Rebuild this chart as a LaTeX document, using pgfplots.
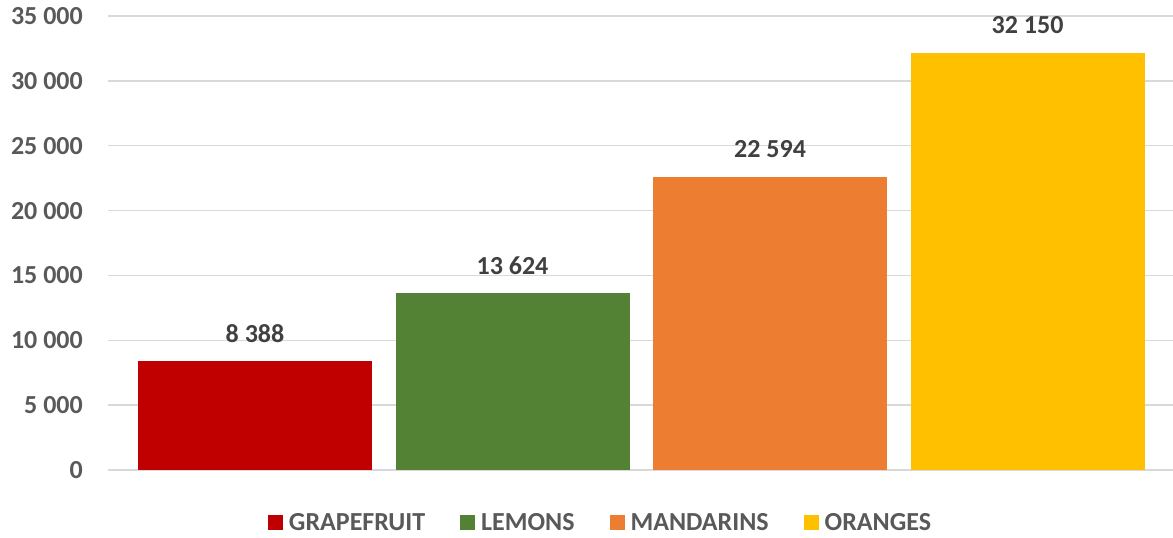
\documentclass[border=0pt]{standalone}
\usepackage{pgfplots}
\pgfplotsset{compat=1.18}
\usepackage{fontspec}
\setmainfont{Carlito}
\definecolor{tickc}{HTML}{595959}
\definecolor{valc}{HTML}{404040}
\definecolor{gridc}{HTML}{D9D9D9}
\definecolor{cgrape}{HTML}{C00000}
\definecolor{clemon}{HTML}{548235}
\definecolor{cmand}{HTML}{ED7D31}
\definecolor{corange}{HTML}{FFC000}
\newcommand{\bigfont}{\fontsize{26}{30}\selectfont\bfseries}
\begin{document}
\begin{tikzpicture}[x=1pt,y=1pt]
\path[use as bounding box] (0,0) rectangle (1173,538);
\begin{axis}[
  at={(108pt,68pt)}, anchor=south west,
  width=1065pt, height=454pt, scale only axis,
  xmin=-0.5709, xmax=3.565, ymin=0, ymax=35000,
  axis line style={draw=none},
  tick style={draw=none},
  xtick=\empty,
  scaled y ticks=false,
  ytick={0,5000,10000,15000,20000,25000,30000,35000},
  yticklabels={0,5 000,10 000,15 000,20 000,25 000,30 000,35 000},
  yticklabel style={font=\bigfont, text=tickc, anchor=east, inner sep=0pt, xshift=-25pt},
  ymajorgrids,
  grid style={color=gridc, line width=1.5pt},
  ybar, bar width=234pt, /pgf/bar shift=0pt,
  point meta=explicit symbolic,
  nodes near coords,
  every node near coord/.append style={font=\bigfont, text=valc, anchor=base, inner sep=0pt, yshift=19pt},
  legend columns=-1,
  legend image code/.code={\fill[#1] (0pt,-7.5pt) rectangle (15pt,7.5pt);},
  legend style={at={(0.1502,-0.1167)}, anchor=west, draw=none, fill=none,
    inner sep=0pt, outer sep=0pt, font=\bigfont, text=tickc,
    nodes={inner sep=0pt},
    /tikz/every odd column/.append style={column sep=6pt},
    /tikz/every even column/.append style={column sep=35pt}},
]
\addplot[fill=cgrape, draw=none] coordinates {(0,8388) [8 388]};
\addlegendentry{GRAPEFRUIT}
\addplot[fill=clemon, draw=none] coordinates {(1,13624) [13 624]};
\addlegendentry{LEMONS}
\addplot[fill=cmand, draw=none] coordinates {(2,22594) [22 594]};
\addlegendentry{MANDARINS}
\addplot[fill=corange, draw=none] coordinates {(3,32150) [32 150]};
\addlegendentry{ORANGES}
\end{axis}
\end{tikzpicture}
\end{document}
